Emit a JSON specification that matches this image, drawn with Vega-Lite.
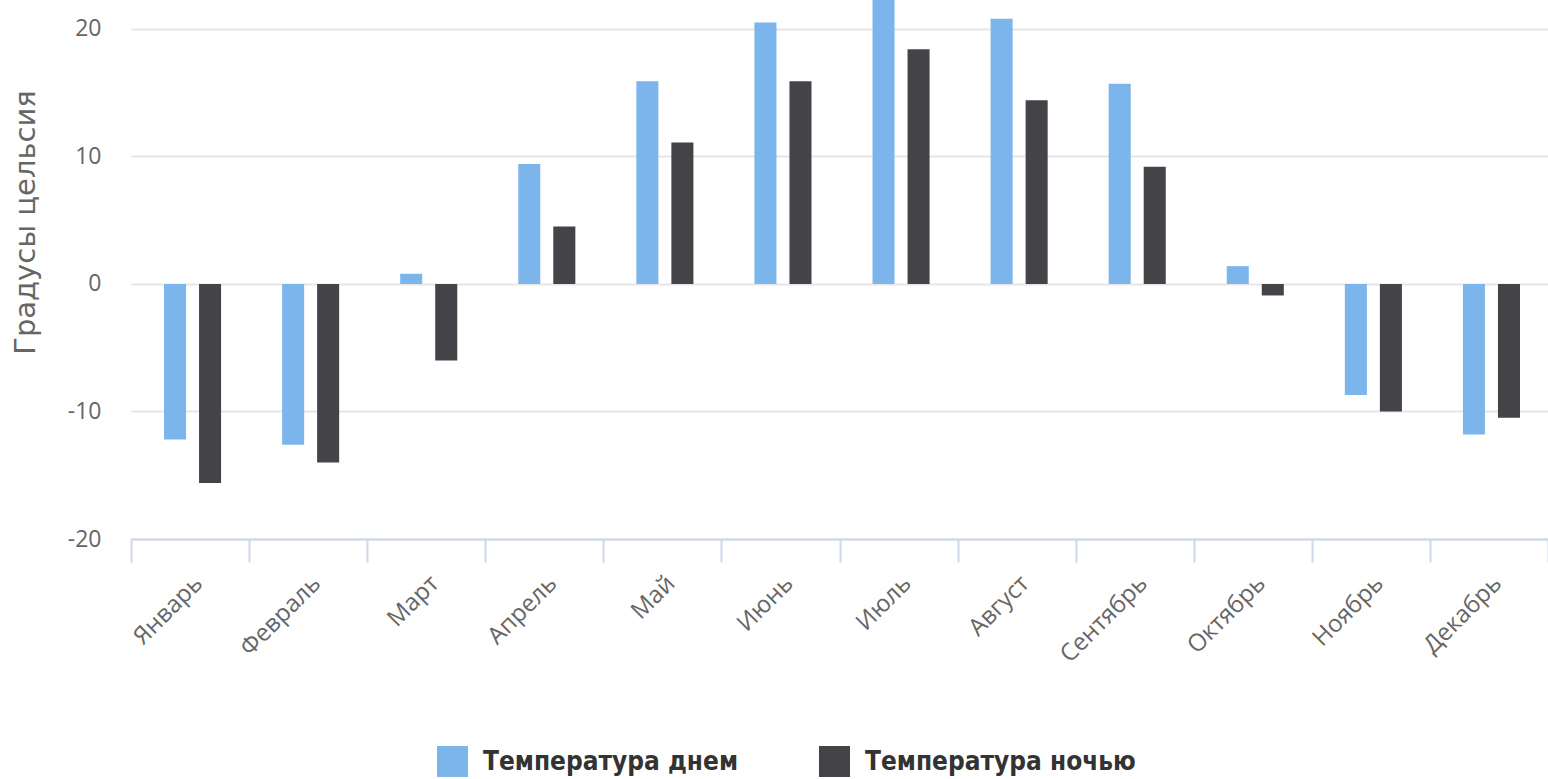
{
  "$schema": "https://vega.github.io/schema/vega-lite/v6.json",
  "width": 1417,
  "height": 539,
  "autosize": {"type": "none"},
  "padding": {"left": 131, "top": 0, "right": 0, "bottom": 240},
  "background": "white",
  "config": {
    "view": {"stroke": null},
    "font": "Open Sans"
  },
  "data": {
    "values": [
      {"month": "Январь", "series": "Температура днем", "value": -12.2},
      {"month": "Январь", "series": "Температура ночью", "value": -15.6},
      {"month": "Февраль", "series": "Температура днем", "value": -12.6},
      {"month": "Февраль", "series": "Температура ночью", "value": -14.0},
      {"month": "Март", "series": "Температура днем", "value": 0.8},
      {"month": "Март", "series": "Температура ночью", "value": -6.0},
      {"month": "Апрель", "series": "Температура днем", "value": 9.4},
      {"month": "Апрель", "series": "Температура ночью", "value": 4.5},
      {"month": "Май", "series": "Температура днем", "value": 15.9},
      {"month": "Май", "series": "Температура ночью", "value": 11.1},
      {"month": "Июнь", "series": "Температура днем", "value": 20.5},
      {"month": "Июнь", "series": "Температура ночью", "value": 15.9},
      {"month": "Июль", "series": "Температура днем", "value": 22.5},
      {"month": "Июль", "series": "Температура ночью", "value": 18.4},
      {"month": "Август", "series": "Температура днем", "value": 20.8},
      {"month": "Август", "series": "Температура ночью", "value": 14.4},
      {"month": "Сентябрь", "series": "Температура днем", "value": 15.7},
      {"month": "Сентябрь", "series": "Температура ночью", "value": 9.2},
      {"month": "Октябрь", "series": "Температура днем", "value": 1.4},
      {"month": "Октябрь", "series": "Температура ночью", "value": -0.9},
      {"month": "Ноябрь", "series": "Температура днем", "value": -8.7},
      {"month": "Ноябрь", "series": "Температура ночью", "value": -10.0},
      {"month": "Декабрь", "series": "Температура днем", "value": -11.8},
      {"month": "Декабрь", "series": "Температура ночью", "value": -10.5}
    ]
  },
  "mark": {"type": "bar", "clip": true, "cornerRadius": 0},
  "encoding": {
    "x": {
      "field": "month",
      "type": "nominal",
      "sort": ["Январь", "Февраль", "Март", "Апрель", "Май", "Июнь", "Июль", "Август", "Сентябрь", "Октябрь", "Ноябрь", "Декабрь"],
      "scale": {"paddingInner": 0, "paddingOuter": 0},
      "axis": {
        "title": null,
        "labelAngle": -45,
        "labelFontSize": 24,
        "labelColor": "#666666",
        "labelPadding": 9,
        "labelDx": -5,
        "domainColor": "#ccd6eb",
        "domainWidth": 2,
        "tickColor": "#ccd6eb",
        "tickWidth": 2,
        "tickSize": 23,
        "tickBand": "extent",
        "grid": false
      }
    },
    "xOffset": {
      "field": "series",
      "type": "nominal",
      "scale": {"paddingInner": 0.371, "paddingOuter": 0.871, "align": 0.541}
    },
    "y": {
      "field": "value",
      "type": "quantitative",
      "scale": {"domain": [-20, 22.27], "nice": false, "zero": false},
      "axis": {
        "title": "Градусы цельсия",
        "titleFont": "DejaVu Sans",
        "titleFontSize": 29,
        "titleFontWeight": "normal",
        "titleColor": "#666666",
        "titleX": -106,
        "titleY": 222,
        "titleAngle": -90,
        "titleAlign": "center",
        "titleBaseline": "middle",
        "values": [-20, -10, 0, 10, 20],
        "labelExpr": "toString(datum.value)",
        "labelFontSize": 23,
        "labelColor": "#666666",
        "labelPadding": 30,
        "ticks": false,
        "domain": false,
        "gridColor": "#e6e6e6",
        "gridWidth": 2
      }
    },
    "color": {
      "field": "series",
      "type": "nominal",
      "scale": {"domain": ["Температура днем", "Температура ночью"], "range": ["#7cb5ec", "#434348"]},
      "legend": {
        "title": null,
        "orient": "none",
        "direction": "horizontal",
        "legendX": 306,
        "legendY": 746,
        "symbolType": "square",
        "symbolSize": 961,
        "symbolStrokeWidth": 0,
        "labelFontSize": 26,
        "labelFontWeight": "bold",
        "labelColor": "#333333",
        "labelFont": "DejaVu Sans Condensed, Roboto",
        "labelLimit": 0,
        "labelOffset": 15,
        "columnPadding": 80
      }
    }
  }
}
